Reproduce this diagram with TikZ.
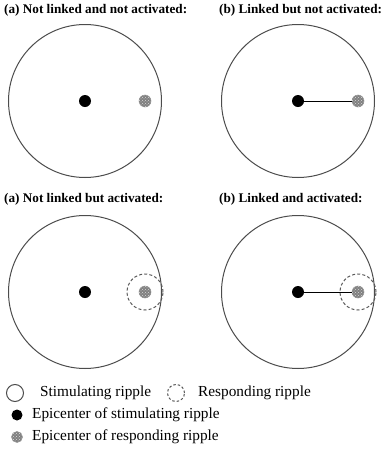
\documentclass[tikz,border=0pt]{standalone}
\usepackage{fontspec}
\setmainfont{Liberation Serif}
\usetikzlibrary{patterns}
\begin{document}
\begin{tikzpicture}[x=1pt,y=-1pt,
  ripple/.style={circle,draw=black!70,line width=1pt,minimum size=153pt,inner sep=0pt},
  resp/.style={circle,draw=black!65,line width=1pt,dashed,dash pattern=on 3pt off 2.2pt,minimum size=36pt,inner sep=0pt},
  epi/.style={circle,fill=black,minimum size=12pt,inner sep=0pt},
  repi/.style={circle,draw=black!45,line width=0.5pt,fill=black!50,minimum size=12pt,inner sep=0pt,
    postaction={pattern=crosshatch dots,pattern color=white!85!black}},
  title/.style={anchor=west,font=\fontsize{13.2}{16}\selectfont\bfseries,inner sep=0pt},
  leg/.style={anchor=west,font=\fontsize{15.3}{18}\selectfont,inner sep=0pt},
  link/.style={line width=1pt}]
\useasboundingbox (0,0) rectangle (384,453);
% titles
\node[title] (t1) at (4,10) {(a) Not linked and not activated:};
\node[title] (t2) at (219,10) {(b) Linked but not activated:};
\node[title] (t3) at (4,199) {(a) Not linked but activated:};
\node[title] (t4) at (219,199) {(b) Linked and activated:};
% panel 1
\node[ripple] (r1) at (85,101) {};
\node[epi] (e1) at (85,101) {};
\node[repi] (h1) at (145,101) {};
% panel 2
\node[ripple] (r2) at (298,101) {};
\node[epi] (e2) at (298,101) {};
\node[repi] (h2) at (358,101) {};
\draw[link] (e2) -- (h2);
% panel 3
\node[ripple] (r3) at (85,292) {};
\node[epi] (e3) at (85,292) {};
\node[resp] (d3) at (145,292) {};
\node[repi] (h3) at (145,292) {};
% panel 4
\node[ripple] (r4) at (298,292) {};
\node[epi] (e4) at (298,292) {};
\node[resp] (d4) at (358,292) {};
\node[repi] (h4) at (358,292) {};
\draw[link] (e4) -- (h4);
% legend
\node[circle,draw=black!70,line width=1pt,minimum size=17pt,inner sep=0pt] (l1) at (15,393) {};
\node[leg] (l1t) at (40,393) {Stimulating ripple};
\node[circle,draw=black!65,line width=1pt,dashed,dash pattern=on 2.5pt off 2pt,minimum size=17pt,inner sep=0pt] (l2) at (176,393) {};
\node[leg] (l2t) at (198,393) {Responding ripple};
\node[epi,minimum size=11pt] (l3) at (17,415) {};
\node[leg] (l3t) at (32,415) {Epicenter of stimulating ripple};
\node[repi,minimum size=11pt] (l4) at (17,437) {};
\node[leg] (l4t) at (32,437) {Epicenter of responding ripple};
\end{tikzpicture}
\end{document}
